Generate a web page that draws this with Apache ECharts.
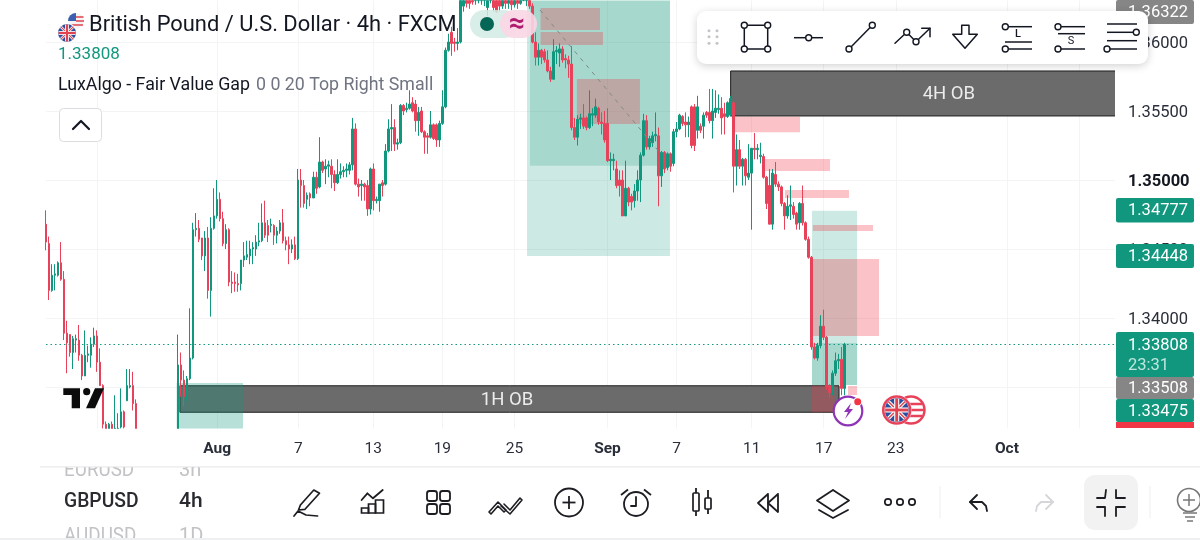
<!DOCTYPE html>
<html><head><meta charset="utf-8">
<style>html,body{margin:0;padding:0;background:#fff}#c{width:1200px;height:540px}</style>
<script src="https://cdn.jsdelivr.net/npm/echarts@6/dist/echarts.min.js"></script>
</head><body><div id="c"></div>
<script>
// [open, close, low, high]; null = bar lies below the visible price range
const candleRows = [
[1.3468,1.3455,1.3449,1.3478],[1.3454,1.3420,1.3413,1.3459],[1.3420,1.3431,1.3419,1.3439],[1.3431,1.3432,1.3420,1.3439],
[1.3431,1.3440,1.3430,1.3441],[1.3440,1.3428,1.3427,1.3455],[1.3428,1.3389,1.3384,1.3434],[1.3389,1.3382,1.3360,1.3398],
[1.3388,1.3375,1.3372,1.3388],[1.3375,1.3385,1.3363,1.3387],[1.3384,1.3385,1.3375,1.3388],[1.3384,1.3373,1.3369,1.3395],
[1.3373,1.3358,1.3355,1.3374],[1.3358,1.3373,1.3358,1.3391],[1.3373,1.3374,1.3368,1.3380],[1.3373,1.3381,1.3364,1.3386],
[1.3381,1.3387,1.3379,1.3393],[1.3387,1.3368,1.3361,1.3391],[1.3368,1.3351,1.3351,1.3378],[1.3351,1.3323,1.3319,1.3352],
[1.3323,1.3318,1.3315,1.3325],[1.3318,1.3323,1.3315,1.3324],[1.3323,1.3318,1.3315,1.3325],[1.3318,1.3320,1.3315,1.3344],
[1.3320,1.3317,1.3314,1.3331],[1.3321,1.3332,1.3319,1.3349],[1.3332,1.3321,1.3318,1.3333],[1.3340,1.3351,1.3340,1.3363],
[1.3350,1.3351,1.3349,1.3363],[1.3351,1.3338,1.3333,1.3361],[1.3338,1.3316,1.3312,1.3341],
null,null,null,null,null,null,null,null,null,null,null,null,null,
[1.3316,1.3366,1.3310,1.3388],[1.3366,1.3355,1.3343,1.3375],[1.3355,1.3343,1.3336,1.3362],[1.3343,1.3356,1.3340,1.3358],
[1.3356,1.3371,1.3355,1.3407],[1.3371,1.3464,1.3370,1.3469],[1.3464,1.3465,1.3459,1.3476],[1.3465,1.3457,1.3455,1.3471],
[1.3458,1.3445,1.3442,1.3458],[1.3445,1.3458,1.3434,1.3463],[1.3458,1.3420,1.3414,1.3466],[1.3420,1.3465,1.3401,1.3473],
[1.3465,1.3474,1.3464,1.3494],[1.3474,1.3486,1.3472,1.3500],[1.3486,1.3472,1.3470,1.3491],[1.3472,1.3454,1.3452,1.3477],
[1.3454,1.3464,1.3450,1.3468],[1.3464,1.3426,1.3423,1.3465],[1.3426,1.3425,1.3418,1.3434],[1.3426,1.3425,1.3419,1.3433],
[1.3425,1.3424,1.3419,1.3432],[1.3425,1.3442,1.3420,1.3442],[1.3442,1.3445,1.3437,1.3455],[1.3444,1.3446,1.3442,1.3456],
[1.3445,1.3450,1.3439,1.3456],[1.3450,1.3451,1.3439,1.3455],[1.3450,1.3455,1.3445,1.3460],[1.3455,1.3456,1.3452,1.3469],
[1.3456,1.3469,1.3455,1.3483],[1.3469,1.3460,1.3458,1.3485],[1.3467,1.3460,1.3455,1.3471],[1.3467,1.3468,1.3462,1.3472],
[1.3467,1.3460,1.3453,1.3468],[1.3460,1.3463,1.3454,1.3466],[1.3463,1.3469,1.3461,1.3471],[1.3469,1.3456,1.3454,1.3479],
[1.3456,1.3453,1.3449,1.3459],[1.3453,1.3450,1.3439,1.3459],[1.3450,1.3453,1.3447,1.3457],[1.3453,1.3443,1.3442,1.3459],
[1.3443,1.3500,1.3442,1.3508],[1.3500,1.3496,1.3480,1.3508],[1.3496,1.3483,1.3480,1.3500],[1.3486,1.3489,1.3479,1.3491],
[1.3490,1.3487,1.3481,1.3491],[1.3487,1.3502,1.3487,1.3506],[1.3502,1.3494,1.3490,1.3506],[1.3495,1.3513,1.3494,1.3531],
[1.3513,1.3507,1.3505,1.3514],[1.3508,1.3510,1.3497,1.3515],[1.3510,1.3511,1.3502,1.3514],[1.3510,1.3504,1.3494,1.3515],
[1.3504,1.3498,1.3492,1.3507],[1.3498,1.3504,1.3497,1.3515],[1.3504,1.3506,1.3501,1.3512],[1.3506,1.3507,1.3502,1.3510],
[1.3507,1.3508,1.3502,1.3512],[1.3507,1.3511,1.3504,1.3513],[1.3511,1.3537,1.3507,1.3545],[1.3537,1.3497,1.3496,1.3541],
[1.3497,1.3495,1.3488,1.3501],[1.3496,1.3497,1.3485,1.3500],[1.3497,1.3495,1.3485,1.3498],[1.3496,1.3479,1.3474,1.3500],
[1.3479,1.3508,1.3475,1.3509],[1.3508,1.3485,1.3478,1.3512],[1.3485,1.3486,1.3483,1.3488],[1.3485,1.3497,1.3477,1.3497],
[1.3498,1.3496,1.3488,1.3500],[1.3497,1.3521,1.3496,1.3526],[1.3521,1.3537,1.3520,1.3544],[1.3537,1.3538,1.3521,1.3555],
[1.3538,1.3526,1.3521,1.3544],[1.3526,1.3527,1.3522,1.3530],[1.3527,1.3554,1.3526,1.3555],[1.3554,1.3550,1.3547,1.3555],
[1.3551,1.3552,1.3549,1.3556],[1.3552,1.3555,1.3551,1.3565],[1.3556,1.3550,1.3549,1.3560],[1.3555,1.3543,1.3535,1.3558],
[1.3543,1.3549,1.3532,1.3553],[1.3550,1.3535,1.3534,1.3553],[1.3535,1.3531,1.3519,1.3536],[1.3532,1.3531,1.3519,1.3534],
[1.3531,1.3540,1.3530,1.3550],[1.3540,1.3530,1.3529,1.3541],[1.3540,1.3529,1.3524,1.3541],[1.3529,1.3541,1.3524,1.3543],
[1.3541,1.3553,1.3540,1.3565],[1.3553,1.3594,1.3552,1.3596],[1.3594,1.3600,1.3593,1.3606],[1.3607,1.3599,1.3590,1.3611],
[1.3600,1.3599,1.3593,1.3603],[1.3599,1.3600,1.3594,1.3610],[1.3600,1.3632,1.3599,1.3640],[1.3626,1.3635,1.3622,1.3640],
[1.3635,1.3628,1.3625,1.3640],[1.3635,1.3628,1.3624,1.3640],[1.3633,1.3629,1.3627,1.3640],[1.3633,1.3634,1.3627,1.3640],
[1.3634,1.3632,1.3628,1.3640],[1.3632,1.3634,1.3627,1.3640],[1.3634,1.3632,1.3626,1.3640],[1.3625,1.3634,1.3619,1.3640],
[1.3634,1.3632,1.3628,1.3640],[1.3635,1.3625,1.3622,1.3640],[1.3635,1.3622,1.3621,1.3640],[1.3633,1.3626,1.3622,1.3640],
[1.3626,1.3632,1.3624,1.3640],[1.3635,1.3628,1.3624,1.3640],[1.3628,1.3633,1.3624,1.3640],[1.3635,1.3627,1.3623,1.3640],
[1.3627,1.3632,1.3625,1.3640],[1.3635,1.3628,1.3624,1.3640],[1.3628,1.3635,1.3627,1.3640],[1.3635,1.3636,1.3632,1.3640],
[1.3636,1.3632,1.3626,1.3640],[1.3635,1.3626,1.3624,1.3640],[1.3626,1.3600,1.3599,1.3628],[1.3600,1.3589,1.3583,1.3607],
[1.3589,1.3594,1.3583,1.3599],[1.3594,1.3589,1.3584,1.3595],[1.3593,1.3587,1.3585,1.3595],[1.3587,1.3579,1.3578,1.3594],
[1.3579,1.3573,1.3571,1.3582],[1.3573,1.3593,1.3573,1.3602],[1.3593,1.3594,1.3584,1.3597],[1.3592,1.3595,1.3582,1.3599],
[1.3595,1.3587,1.3585,1.3597],[1.3588,1.3587,1.3581,1.3591],[1.3587,1.3584,1.3574,1.3590],[1.3584,1.3538,1.3536,1.3597],
[1.3538,1.3531,1.3529,1.3545],[1.3531,1.3544,1.3525,1.3547],[1.3544,1.3545,1.3537,1.3548],[1.3545,1.3539,1.3537,1.3555],
[1.3545,1.3538,1.3536,1.3546],[1.3538,1.3548,1.3537,1.3565],[1.3547,1.3548,1.3539,1.3552],[1.3547,1.3553,1.3545,1.3559],
[1.3552,1.3542,1.3540,1.3553],[1.3542,1.3541,1.3533,1.3549],[1.3541,1.3529,1.3527,1.3550],[1.3541,1.3514,1.3513,1.3552],
[1.3514,1.3515,1.3500,1.3520],[1.3514,1.3515,1.3507,1.3519],[1.3508,1.3496,1.3494,1.3514],[1.3500,1.3496,1.3488,1.3507],
[1.3500,1.3474,1.3474,1.3507],[1.3474,1.3494,1.3474,1.3514],[1.3494,1.3484,1.3481,1.3495],[1.3488,1.3484,1.3478,1.3490],
[1.3485,1.3492,1.3480,1.3497],[1.3492,1.3500,1.3485,1.3507],[1.3500,1.3518,1.3484,1.3520],[1.3518,1.3543,1.3517,1.3548],
[1.3543,1.3524,1.3522,1.3547],[1.3524,1.3530,1.3522,1.3532],[1.3527,1.3532,1.3524,1.3535],[1.3532,1.3533,1.3528,1.3549],
[1.3532,1.3503,1.3481,1.3538],[1.3503,1.3520,1.3495,1.3521],[1.3520,1.3508,1.3505,1.3521],[1.3509,1.3519,1.3507,1.3520],
[1.3519,1.3510,1.3506,1.3520],[1.3512,1.3535,1.3510,1.3537],[1.3535,1.3537,1.3531,1.3542],[1.3537,1.3547,1.3536,1.3548],
[1.3546,1.3541,1.3539,1.3547],[1.3542,1.3540,1.3531,1.3549],[1.3540,1.3542,1.3531,1.3546],[1.3553,1.3525,1.3523,1.3554],
[1.3553,1.3525,1.3521,1.3555],[1.3536,1.3553,1.3530,1.3561],[1.3539,1.3536,1.3534,1.3541],[1.3539,1.3547,1.3530,1.3549],
[1.3549,1.3547,1.3545,1.3550],[1.3549,1.3543,1.3541,1.3566],[1.3543,1.3550,1.3530,1.3566],[1.3549,1.3552,1.3545,1.3565],
[1.3551,1.3552,1.3548,1.3562],[1.3552,1.3545,1.3533,1.3560],[1.3548,1.3546,1.3533,1.3556],[1.3546,1.3556,1.3545,1.3557],
[1.3547,1.3559,1.3546,1.3561],[1.3556,1.3510,1.3491,1.3557],[1.3510,1.3522,1.3496,1.3533],[1.3522,1.3510,1.3508,1.3529],
[1.3510,1.3515,1.3496,1.3516],[1.3515,1.3503,1.3496,1.3516],[1.3502,1.3505,1.3500,1.3526],[1.3505,1.3523,1.3464,1.3523],
[1.3523,1.3522,1.3515,1.3534],[1.3522,1.3523,1.3515,1.3526],[1.3517,1.3518,1.3512,1.3527],[1.3517,1.3502,1.3501,1.3519],
[1.3502,1.3483,1.3479,1.3503],[1.3496,1.3468,1.3468,1.3508],[1.3468,1.3505,1.3464,1.3508],[1.3504,1.3497,1.3495,1.3513],
[1.3497,1.3495,1.3492,1.3499],[1.3495,1.3483,1.3481,1.3496],[1.3483,1.3474,1.3464,1.3484],[1.3474,1.3481,1.3472,1.3489],
[1.3481,1.3482,1.3471,1.3496],[1.3481,1.3475,1.3472,1.3484],[1.3476,1.3468,1.3464,1.3477],[1.3469,1.3483,1.3464,1.3484],
[1.3483,1.3469,1.3467,1.3496],[1.3469,1.3457,1.3456,1.3470],[1.3457,1.3444,1.3443,1.3459],[1.3444,1.3379,1.3377,1.3445],
[1.3379,1.3371,1.3370,1.3382],[1.3371,1.3380,1.3369,1.3382],[1.3380,1.3394,1.3378,1.3402],[1.3394,1.3386,1.3384,1.3406],
[1.3386,1.3350,1.3348,1.3387],[1.3351,1.3346,1.3342,1.3352],[1.3346,1.3360,1.3344,1.3362],[1.3360,1.3369,1.3358,1.3375],
[1.3369,1.3370,1.3363,1.3374],[1.3370,1.3349,1.3344,1.3379],[1.3349,1.33808,1.3344,1.3382]
];
const slotCount = 357;
const tickSlots  = [17,57,84,109,132,156,187,210,235,259,283,320,344];
const tickLabels = ['23','Aug','7','13','19','25','Sep','7','11','17','23','Oct','7'];
const boldTicks  = ['Aug','Sep','Oct'];
const priceTicks = [1.335,1.34,1.345,1.35,1.355,1.36];
const boldPrice  = 1.35;
const lastPrice  = 1.33808;
const priceMin = 1.332, priceMax = 1.363;
// boxes: [slot from, slot to, price low, price high]
const orderBlocks = [[228.0,375,1.35464,1.3579],[44.6,264.1,1.33317,1.33509]];
const obNames     = ['4H OB','1H OB'];
const lightGreen  = [[160.2,207.8,1.34449,1.3632],[255.1,270.1,1.33515,1.34777]];
const darkGreen   = [[161.2,207.8,1.35104,1.3632],[255.1,270.1,1.33515,1.33819]];
const entryBox    = [[43.5,65.6,1.3318,1.33529]];
const gapBoxes    = [[164.7,184.5,1.36087,1.36246],[164.7,185.5,1.35978,1.36072],[176.8,197.8,1.35406,1.35732],
 [228.8,251.1,1.35346,1.35459],[238.8,261.1,1.35065,1.35152],[246.1,267.4,1.3487,1.34928],[255.4,275.4,1.3463,1.34674],
 [255.1,277.4,1.33870,1.34428],[267.1,270.1,1.33442,1.33507],[255.1,262.6,1.33317,1.33509]];
const diagonalLine = [[164.5,1.36232],[205.1,1.35181]];

const UP='#12977f', DOWN='#e8425a', INK='#131722';
const F='Roboto, "Noto Sans", sans-serif';
const G=[];
const Z=100;
function ln(x1,y1,x2,y2,c,w){G.push({type:'line',z:Z,silent:true,shape:{x1,y1,x2,y2},style:{stroke:c||INK,lineWidth:w||1.5}})}
function pl(p,c,w,fill){G.push({type:fill===undefined?'polyline':'polygon',z:Z,silent:true,shape:{points:p},style:{stroke:c===undefined?INK:c,lineWidth:w||1.5,fill:fill===undefined?null:fill,lineJoin:'round',lineCap:'round'}})}
function ci(cx,cy,r,fill,st,w){G.push({type:'circle',z:Z,silent:true,shape:{cx,cy,r},style:{fill:fill||null,stroke:st||null,lineWidth:w||1.5}})}
function bx(x,y,wd,h,r,fill,st,w,extra){G.push({type:'rect',z:Z,silent:true,shape:{x,y,width:wd,height:h,r:r||0},style:Object.assign({fill:fill||null,stroke:st||null,lineWidth:w||1},extra||{})})}
function tx(x,y,text,size,color,weight,align,sx){y+=1.5;G.push({type:'text',z:Z,silent:true,x,y,scaleX:sx||1,style:{text,fill:color||INK,font:(weight||'400')+' '+size+'px '+F,textAlign:align||'left',textVerticalAlign:'middle',align:align||'left',verticalAlign:'middle'}})}

function ukFlag(cx,cy,r){
 ci(cx,cy,r,'#2b4f9e');
 const d=r*0.68;
 ln(cx-d,cy-d,cx+d,cy+d,'#fff',r*0.3);ln(cx-d,cy+d,cx+d,cy-d,'#fff',r*0.3);
 ln(cx-d,cy-d,cx+d,cy+d,'#e0434f',r*0.12);ln(cx-d,cy+d,cx+d,cy-d,'#e0434f',r*0.12);
 ln(cx-r+.5,cy,cx+r-.5,cy,'#fff',r*0.42);ln(cx,cy-r+.5,cx,cy+r-.5,'#fff',r*0.42);
 ln(cx-r+.5,cy,cx+r-.5,cy,'#e0434f',r*0.24);ln(cx,cy-r+.5,cx,cy+r-.5,'#e0434f',r*0.24);
}
// price badges
[[0,24,'#868686','1.36322'],[198,24.6,UP,'1.34777'],[244,24,UP,'1.34448'],[377,22,'#868686','1.33508'],[399,23,UP,'1.33475']]
 .forEach(b=>{bx(1116,b[0],78,b[1],2,b[2]);tx(1128,b[0]+b[1]/2-.5,b[3],16.5,'#fff')});
bx(1116,332,78,45,2,UP);tx(1128,344,'1.33808',16.5,'#fff');tx(1128,364,'23:31',16.5,'#bfe6dd');
bx(1116,422,78,6,0,'#f23645');
// header
ci(76,21,8,'#f4f4f4');G.push({type:'sector',z:Z,silent:true,shape:{cx:76,cy:21,r:8,startAngle:Math.PI,endAngle:Math.PI*1.5},style:{fill:'#3b5fb0'}});
ln(76,17,83.5,17,'#e0434f',1.5);ln(76,21,84,21,'#e0434f',1.5);ln(69,25,83,25,'#e0434f',1.5);
ci(67,33,10,'#fff');ukFlag(67,33,9);
tx(89,24,'British Pound / U.S. Dollar · 4h · FXCM',21.9,INK);
tx(58,53.5,'1.33808',17,UP);
tx(58,84.5,'LuxAlgo - Fair Value Gap',17.8,INK);
tx(256,84.5,'0 0 20 Top Right Small',17.8,'#6f7480');
bx(59.5,108.5,42,33,4,'#fff','#dcdde0',1);
pl([[73,129],[81,121],[89,129]],INK,2.2);
// status pills
bx(470,10,48,28,14,'rgba(210,235,229,.85)');
bx(500,10,37,28,14,'rgba(251,214,228,.9)');
ci(487,24,7,'#056656');
tx(517,23,'≈',28,'#b01c6f','700','center');
// floating drawing toolbar
bx(697,11,451,53,9,'#fff',null,0,{shadowBlur:8,shadowColor:'rgba(0,0,0,.18)',shadowOffsetY:2});
[709,717].forEach(x=>[30.7,36.7,43.3].forEach(y=>ci(x,y,1.5,'#c4c5c8')));
const hc=(x,y)=>ci(x,y,3,'#fff',INK,1.4);
bx(744.3,25.3,23.4,23.7,0,null,INK,1.5);[[744.3,25.3],[767.7,25.3],[744.3,49],[767.7,49]].forEach(p=>hc(p[0],p[1]));
ln(794,37.7,823,37.7);hc(808.7,37.7);
ln(849,49,872.3,25.3);hc(849,49);hc(872.3,25.3);
pl([[895,43.3],[906.7,32.3],[916,41.7],[930,28.3]]);pl([[921.7,28.3],[930,28.3],[930,36.7]]);hc(906.7,32.3);hc(916,41.7);
pl([[961.7,25.3],[969,25.3],[969,34.3],[977.3,34.3],[965,48.3],[952.7,34.3],[961.7,34.3]],INK,1.5,'#fff');
ln(1005,26.7,1032,26.7);ln(1005,42,1032,42);ln(1005,49,1032,49);hc(1005.3,26.7);hc(1005.3,49);tx(1018,33,'L',11,INK,'500','center');
ln(1058,26.7,1085,26.7);ln(1058,33.7,1085,33.7);ln(1058,49,1085,49);hc(1058,26.7);hc(1058,49);tx(1071,39.5,'S',11,INK,'400','center');
ln(1107,24,1137,24);ln(1107,32.3,1136,32.3);ln(1107,40.7,1137,40.7);ln(1107,49,1137,49);hc(1136.3,32.3);hc(1107,49);
// TradingView mark
pl([[63.3,388.3],[80,388.3],[80,408.3],[71.7,408.3],[71.7,395],[63.3,395]],null,0,'#0c0c0c');
ci(86.7,391.7,3.6,'#0c0c0c');pl([[95,388.3],[104,388.3],[95,408.3],[86,408.3]],null,0,'#0c0c0c');
// flash + flags
ci(848,411,14.3,'#fff','#8e34b5',2.2);
pl([[851,403],[844,412],[848,412],[845,419],[853,409],[849,409]],null,0,'#8e34b5');
ci(857.7,401.7,4.5,'#fff');ci(857.7,401.7,3.5,'#f23645');
ci(911,410,13.5,'#fff','#e8425a',2.5);
ln(905,404,922,404,'#e8425a',2.5);ln(900,410,924,410,'#e8425a',2.5);ln(905,416,922,416,'#e8425a',2.5);
ci(896.7,410,15,'#fff');ukFlag(896.7,410,12);ci(896.7,410,13.5,null,'#e8425a',2.5);
// bottom zone
bx(0,456,1200,84,0,'#fff');
ln(40,466.8,1200,466.8,'#e8e9eb',1);
tx(64,469.5,'EURUSD',20,'#c2c3c6','400','left',.94);tx(179,469.5,'3h',20,'#c2c3c6');
bx(0,456,1200,11,0,'#fff');ln(40,466.8,1200,466.8,'#e8e9eb',1);
tx(64,500.5,'GBPUSD',21,'#2a2b30','500','left',.92);tx(179,500.5,'4h',21,'#2a2b30','500');
tx(64,535.5,'AUDUSD',20,'#c2c3c6','400','left',.94);tx(179,535.5,'1D',20,'#c2c3c6');
bx(0,538,1200,2,0,'#eeeff1');
const I='#1c1d22';
pl([[300.4,505],[313.8,490],[319.5,493.3],[305,509.3],[298.5,510],[300.4,505]],I,1.7);
pl([[294,516],[298,511],[306,515],[317.6,516]],I,1.7);
pl([[361.6,500],[367.4,493.3],[373,498.3],[382.7,490]],I,1.8);
bx(361.5,508,7,5,0,null,I,1.7);bx(368.5,504,7,9,0,null,I,1.7);bx(375.5,500,8,13,0,null,I,1.7);
[[427,491],[440,491],[427,504],[440,504]].forEach(p=>bx(p[0],p[1],10,10,2.5,null,I,1.8));
pl([[489,512],[498,502],[506,510],[504,512],[498,506],[491,514],[489,512]],I,1.6);
pl([[504,504],[510,510],[520,498],[522,500],[510,514],[501,506]],I,1.6);
ci(569,502.5,14,null,I,1.8);ln(569,496,569,509,I,1.8);ln(562.5,502.5,575.5,502.5,I,1.8);
ci(636,504,12,null,I,1.8);pl([[636,497],[636,506],[631,506]],I,1.8);ln(621,495,628,489.5,I,1.8);ln(644,489.5,651,495,I,1.8);
ln(696,488,696,516,I,1.8);bx(693,493,6,18,1,'#fff',I,1.7);ln(708,490,708,514,I,1.8);bx(705,498,6,11,1,'#fff',I,1.7);
pl([[768,494],[758,503],[768,512],[768,494]],I,1.8);pl([[778,494],[768,503],[778,512],[778,494]],I,1.8);
pl([[833,490],[849,500.5],[833,511],[817,500.5],[833,490]],I,1.8);pl([[819,510],[833,518],[848,510]],I,1.8);
[888,900,912].forEach(x=>ci(x,502,3.2,null,I,1.7));
ln(940,486,940,518,'#eceef0',1);ln(1150,486,1150,518,'#eceef0',1);
pl([[977,495],[970,502],[977,509]],I,1.8);pl([[970,502],[982,502],[986,506],[987,511]],I,1.8);
pl([[1046,495],[1053,502],[1046,509]],'#d5d6d9',1.8);pl([[1053,502],[1041,502],[1037,506],[1036,511]],'#d5d6d9',1.8);
bx(1084,475,54,55,11,'#f2f2f3');
pl([[1097,498],[1105,498],[1106,490]],I,1.8);pl([[1116,490],[1116,498],[1125,498]],I,1.8);
pl([[1097,507],[1105,507],[1105,516]],I,1.8);pl([[1116,516],[1116,507],[1125,507]],I,1.8);
ci(1189,500,11.5,null,'#777',1.6);ln(1189,494,1189,506,'#777',1.5);ln(1183,500,1195,500,'#777',1.5);
ln(1183,513,1197,513,'#777',1.5);ln(1185,517,1195,517,'#777',1.5);ln(1187,521,1193,521,'#777',1.5);

function boxSeries(name,rows,fill,stroke,z,labels){
 return {type:'custom',name,coordinateSystem:'cartesian2d',xAxisIndex:1,yAxisIndex:0,z,clip:true,silent:true,
  encode:{x:[0,1],y:[2,3]},data:rows,
  renderItem(p,api){
   const a=api.coord([api.value(0),api.value(3)]),b=api.coord([api.value(1),api.value(2)]);
   const el={type:'rect',shape:{x:a[0],y:a[1],width:b[0]-a[0],height:b[1]-a[1]},style:{fill,stroke:stroke||null,lineWidth:stroke?1:0}};
   if(!labels)return el;
   return {type:'group',children:[el,{type:'text',x:(a[0]+b[0])/2-2.5,y:(a[1]+b[1])/2+1,style:{text:labels[p.dataIndex],fill:'#ececec',font:'400 18.5px '+F,textAlign:'center',textVerticalAlign:'middle',align:'center',verticalAlign:'middle'}}]};
  }};
}
const clampPrice=v=>Math.min(priceMax,Math.max(priceMin,v));

const chart=echarts.init(document.getElementById('c'),null,{renderer:'canvas',width:1200,height:540});
chart.setOption({
 animation:false,backgroundColor:'#fff',
 grid:{left:46,width:1069,top:0.6,height:427.8,containLabel:false},
 xAxis:[{type:'category',boundaryGap:false,data:Array.from({length:slotCount},(_,i)=>String(i)),
   axisLine:{show:false},axisTick:{show:false},
   splitLine:{show:true,lineStyle:{color:'#f3f4f6',width:1},interval:(i)=>tickSlots.includes(i)},
   axisLabel:{interval:(i)=>tickSlots.includes(i),margin:13,hideOverlap:false,showMinLabel:false,showMaxLabel:false,
     formatter:(v,i)=>{const k=tickSlots.indexOf(i);if(k<0)return '';const s=tickLabels[k];return boldTicks.includes(s)?'{b|'+s+'}':'{n|'+s+'}';},
     rich:{n:{fontSize:15.5,color:'#2a2e39',fontFamily:F},b:{fontSize:15.5,color:'#2a2e39',fontWeight:700,fontFamily:F}}}},
  {type:'value',min:0,max:slotCount-1,show:false}],
 yAxis:{type:'value',position:'right',min:priceMin,max:priceMax,scale:true,
   axisLine:{show:false},
   axisTick:{show:false,customValues:priceTicks},
   splitLine:{show:true,lineStyle:{color:'#f3f4f6',width:1}},
   axisLabel:{customValues:priceTicks,margin:13,align:'left',
     formatter:v=>Math.abs(v-boldPrice)<1e-6?'{b|'+v.toFixed(5)+'}':'{n|'+v.toFixed(5)+'}',
     rich:{n:{fontSize:16.5,color:'#2a2e39',fontFamily:F,padding:[3,0,0,0]},b:{fontSize:16.5,color:'#131722',fontWeight:700,fontFamily:F,padding:[3,0,0,0]}}}},
 series:[
  boxSeries('order blocks',orderBlocks,'#6b6b6b','#1f1f1f',1,obNames),
  boxSeries('position light',lightGreen,'rgba(18,151,127,.215)',null,2),
  boxSeries('position dark',darkGreen,'rgba(18,151,127,.2)',null,2),
  boxSeries('entry box',entryBox,'rgba(18,151,127,.3)',null,2),
  boxSeries('fair value gaps',gapBoxes,'rgba(242,54,69,.3)',null,3),
  {type:'candlestick',name:'GBPUSD',xAxisIndex:0,yAxisIndex:0,z:5,barWidth:2,silent:true,clip:true,
    itemStyle:{color:UP,color0:DOWN,borderColor:UP,borderColor0:DOWN,borderWidth:1},
    data:candleRows.map(r=>r?r.map(clampPrice):['-','-','-','-'])},
  {type:'line',name:'trade path',xAxisIndex:1,yAxisIndex:0,z:6,silent:true,symbol:'none',data:diagonalLine,
    lineStyle:{color:'#7d8a88',width:1,type:[4,5]}},
  {type:'line',name:'last price',xAxisIndex:1,yAxisIndex:0,z:4,silent:true,symbol:'none',data:[[0,lastPrice],[slotCount-1,lastPrice]],
    lineStyle:{color:UP,width:1,type:[1.5,3]}}
 ],
 graphic:{elements:G}
});
</script></body></html>
